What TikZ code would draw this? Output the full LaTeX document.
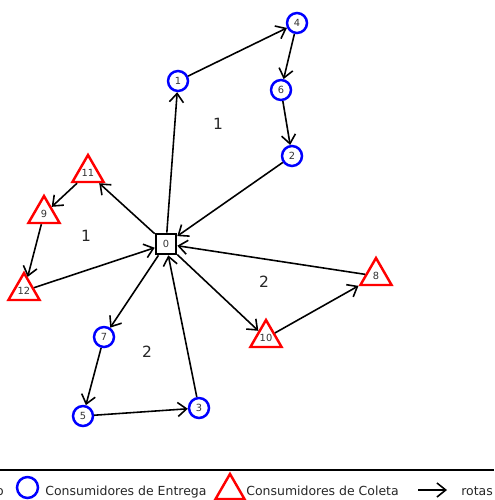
\documentclass[tikz,border=0pt]{standalone}
\usepackage{fontspec}
\setmainfont{DejaVu Sans}
\usetikzlibrary{arrows.meta,shapes.geometric}
\begin{document}
\begin{tikzpicture}[x=0.02cm,y=-0.02cm,
  deliv/.style={circle,draw=blue,line width=1.4pt,minimum size=0.4cm,inner sep=0pt,
    font=\fontsize{5.6}{6}\selectfont,text=black!80},
  pickup/.style={regular polygon,regular polygon sides=3,draw=red,line width=1.4pt,
    minimum size=0.72cm,inner sep=0pt,font=\fontsize{5.6}{6}\selectfont,text=black!80},
  depot/.style={rectangle,draw=black,line width=1.5pt,minimum size=0.4cm,inner sep=0pt,
    font=\fontsize{5.6}{6}\selectfont,text=black!80},
  route/.style={-{Straight Barb[length=5pt,width=8pt,line width=0.9pt]},line width=0.9pt},
  region/.style={font=\fontsize{8.8}{10}\selectfont,text=black!85},
  legtext/.style={font=\fontsize{7.1}{8}\selectfont,text=black!85,anchor=base west,inner sep=0pt}
]
\clip (0,0) rectangle (494,500);

% depot
\node[depot] (d0) at (166,244) {0};

% delivery customers
\node[deliv] (c1) at (178,81) {1};
\node[deliv] (c4) at (297,23) {4};
\node[deliv] (c6) at (281,90) {6};
\node[deliv] (c2) at (292,156) {2};
\node[deliv] (c7) at (104,337) {7};
\node[deliv] (c5) at (83,416) {5};
\node[deliv] (c3) at (199,408) {3};

% pickup customers
\node[pickup] (p11) at (88,173) {11};
\node[pickup] (p9) at (44,214) {9};
\node[pickup] (p12) at (24,291) {12};
\node[pickup] (p10) at (266,338) {10};
\node[pickup] (p8) at (376,276) {8};

% routes
\draw[route] (d0) -- (c1);
\draw[route] (c1) -- (c4);
\draw[route] (c4) -- (c6);
\draw[route] (c6) -- (c2);
\draw[route] (c2) -- (d0);

\draw[route] (d0) -- (p11);
\draw[route] (p11) -- (p9);
\draw[route] (p9) -- (p12);
\draw[route] (p12) -- (d0);

\draw[route] (d0) -- (c7);
\draw[route] (c7) -- (c5);
\draw[route] (c5) -- (c3);
\draw[route] (c3) -- (d0);

\draw[route] (d0) -- (p10);
\draw[route] (p10) -- (p8);
\draw[route] (p8) -- (d0);

% vehicle labels
\node[region] (r1a) at (218,124) {1};
\node[region] (r1b) at (86,236) {1};
\node[region] (r2a) at (264,282) {2};
\node[region] (r2b) at (147,352) {2};

% legend
\draw[line width=0.9pt] (0,470) -- (494,470);
\node[legtext,anchor=base east] (ldep) at (4,495.5) {Depósito};
\node[deliv,minimum size=0.42cm] (lc) at (27.5,487.5) {};
\node[legtext] (lct) at (45,495.5) {Consumidores de Entrega};
\node[pickup,minimum size=0.67cm] (lp) at (230,490.7) {};
\node[legtext] (lpt) at (246,495.5) {Consumidores de Coleta};
\coordinate (la) at (418,490);
\coordinate (lb) at (447,490);
\draw[route] (la) -- (lb);
\node[legtext] (lrt) at (461,495.5) {rotas};
\end{tikzpicture}
\end{document}
